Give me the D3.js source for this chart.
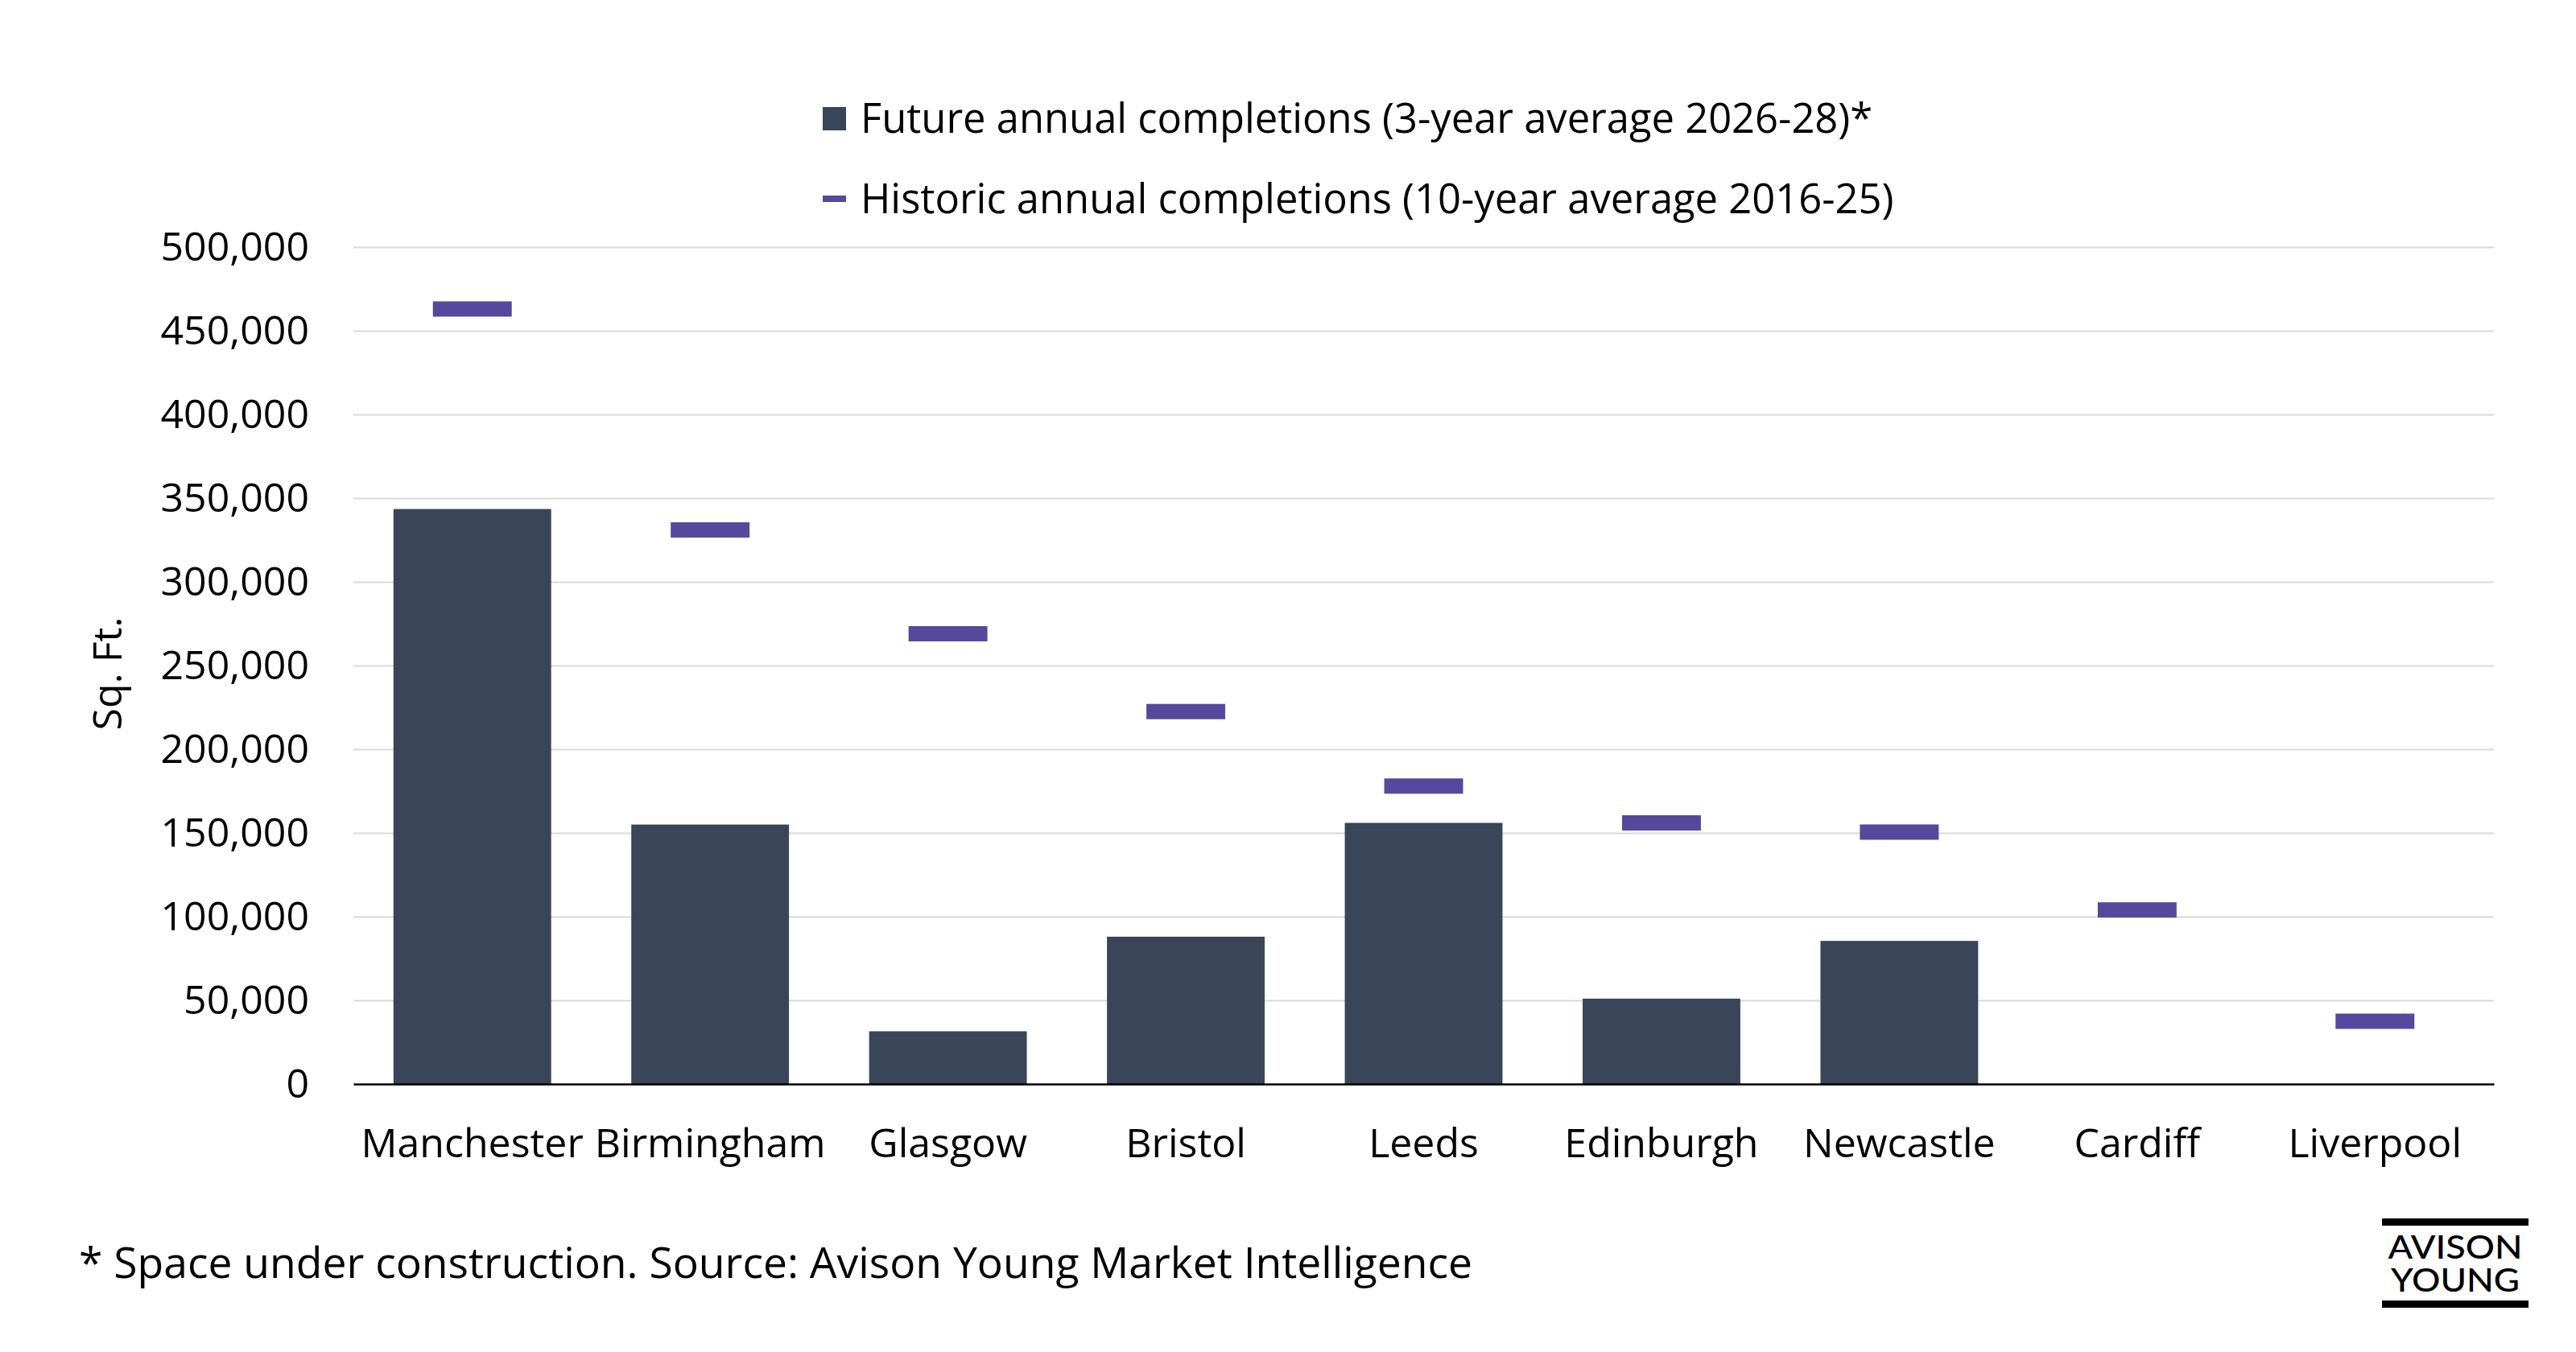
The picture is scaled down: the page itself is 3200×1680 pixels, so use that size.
<!DOCTYPE html>
<html>
<head>
<meta charset="utf-8">
<script src="https://cdn.jsdelivr.net/npm/d3@7"></script>
<style>
  body { margin: 0; background: #fff; }
  svg text { font-family: "Open Sans", sans-serif; }
</style>
</head>
<body>
<div id="chart"></div>
<script>
// Data
var cities = ["Manchester", "Birmingham", "Glasgow", "Bristol", "Leeds",
              "Edinburgh", "Newcastle", "Cardiff", "Liverpool"];
var futureCompletions = [343500, 155000, 31500, 88000, 156000, 51000, 85500, 0, 0];
var historicCompletions = [463000, 331000, 269000, 222500, 178000, 156000, 150500, 104000, 37500];
var yTicks = [0, 50000, 100000, 150000, 200000, 250000, 300000, 350000, 400000, 450000, 500000];
var legendLabels = ["Future annual completions (3-year average 2026-28)*",
                    "Historic annual completions (10-year average 2016-25)"];

var barColor = "#394559",
    markColor = "#56499d";

var width = 3200, height = 1680;
var plot = { left: 439, right: 3098, top: 307, bottom: 1347 };

var svg = d3.select("#chart")
  .append("svg")
  .attr("width", width)
  .attr("height", height)
  .style("display", "block");

var data = cities.map(function(c, i) {
  return { city: c, future: futureCompletions[i], historic: historicCompletions[i] };
});

var x = d3.scaleBand()
  .domain(cities)
  .range([plot.left, plot.right])
  .paddingInner(0.337)
  .paddingOuter(0.1685);

var y = d3.scaleLinear()
  .domain([0, 500000])
  .range([plot.bottom, plot.top]);

// gridlines + y labels
var yAxis = svg.append("g")
  .attr("transform", "translate(" + plot.left + ",0)")
  .call(d3.axisLeft(y)
    .tickValues(yTicks)
    .tickFormat(d3.format(","))
    .tickSize(-(plot.right - plot.left))
    .tickPadding(55));
yAxis.select(".domain").remove();
yAxis.selectAll(".tick line")
  .attr("stroke", "#d9d9d9")
  .attr("stroke-width", 2)
  .attr("opacity", function(d) { return d === 0 ? 0 : 1; });
yAxis.selectAll(".tick text")
  .attr("fill", "#000")
  .style("font-size", "50px");

// bars
svg.selectAll("rect.bar")
  .data(data)
  .enter()
  .append("rect")
    .attr("class", "bar")
    .attr("x", function(d) { return x(d.city); })
    .attr("y", function(d) { return y(d.future); })
    .attr("width", x.bandwidth())
    .attr("height", function(d) { return y(0) - y(d.future); })
    .attr("fill", barColor);

// historic markers
var markW = x.bandwidth() / 2, markH = 19;
svg.selectAll("rect.mark")
  .data(data)
  .enter()
  .append("rect")
    .attr("class", "mark")
    .attr("x", function(d) { return x(d.city) + x.bandwidth() / 2 - markW / 2; })
    .attr("y", function(d) { return y(d.historic) - markH / 2; })
    .attr("width", markW)
    .attr("height", markH)
    .attr("fill", markColor);

// x axis
var xAxis = svg.append("g")
  .attr("transform", "translate(0," + plot.bottom + ")")
  .call(d3.axisBottom(x).tickSize(0).tickPadding(55));
xAxis.select(".domain")
  .attr("stroke", "#000")
  .attr("stroke-width", 2.5);
xAxis.selectAll(".tick text")
  .attr("fill", "#000")
  .style("font-size", "50px");

// y axis title
svg.append("text")
  .attr("transform", "translate(151," + ((plot.top + plot.bottom) / 2 + 10) + ") rotate(-90)")
  .attr("text-anchor", "middle")
  .style("font-size", "50px")
  .attr("fill", "#000")
  .text("Sq. Ft.");

// legend
var legend = svg.append("g");
legend.append("rect")
  .attr("x", 1022).attr("y", 133)
  .attr("width", 29).attr("height", 29)
  .attr("fill", barColor);
legend.append("rect")
  .attr("x", 1022).attr("y", 243)
  .attr("width", 29).attr("height", 8)
  .attr("fill", markColor);
legend.selectAll("text")
  .data(legendLabels)
  .enter()
  .append("text")
    .attr("x", 1069)
    .attr("y", function(d, i) { return 165 + i * 100; })
    .style("font-size", "50.7px")
    .attr("fill", "#000")
    .text(function(d) { return d; });

// footnote
svg.append("text")
  .attr("x", 98)
  .attr("y", 1588)
  .style("font-size", "53.4px")
  .attr("fill", "#000")
  .text("* Space under construction. Source: Avison Young Market Intelligence");

// logo
var logo = svg.append("g");
logo.append("rect").attr("x", 2959).attr("y", 1514).attr("width", 182).attr("height", 9).attr("fill", "#000");
logo.append("rect").attr("x", 2959).attr("y", 1616).attr("width", 182).attr("height", 9).attr("fill", "#000");
logo.selectAll("text")
  .data(["AVISON", "YOUNG"])
  .enter()
  .append("text")
    .attr("x", 3050)
    .attr("y", function(d, i) { return 1564 + i * 41; })
    .attr("text-anchor", "middle")
    .attr("textLength", function(d, i) { return i === 0 ? 167 : 160; })
    .attr("lengthAdjust", "spacingAndGlyphs")
    .style("font-family", "Lato, sans-serif")
    .style("font-size", "40px")
    .style("font-weight", 500)
    .attr("fill", "#000")
    .text(function(d) { return d; });
</script>
</body>
</html>
